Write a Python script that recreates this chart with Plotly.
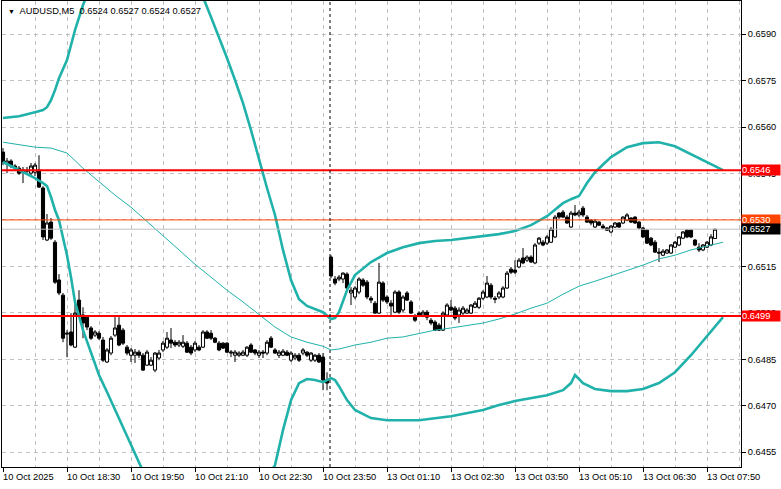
import plotly.graph_objects as go

# ---------------- data ----------------
open_ = [
0.65519,0.65480,0.65490,0.65474,0.65467,0.65454,0.65461,0.65451,0.65454,0.65461,
0.65403,0.65235,0.65293,0.65228,0.65106,0.65057,0.64931,0.64938,0.64889,0.65041,
0.64993,0.64986,0.64951,0.64928,0.64934,0.64912,0.64841,0.64870,0.64928,0.64960,
0.64944,0.64889,0.64863,0.64863,0.64873,0.64863,0.64831,0.64831,0.64815,0.64854,
0.64880,0.64889,0.64912,0.64905,0.64896,0.64892,0.64902,0.64889,0.64880,0.64889,
0.64889,0.64938,0.64934,0.64918,0.64902,0.64902,0.64902,0.64870,0.64863,0.64863,
0.64863,0.64863,0.64896,0.64880,0.64863,0.64873,0.64870,0.64918,0.64880,0.64863,
0.64863,0.64873,0.64847,0.64854,0.64863,0.64870,0.64873,0.64847,0.64847,0.64863,
0.64857,0.64783,0.65180,0.65109,0.65109,0.65109,0.65125,0.65064,0.65051,0.65067,
0.65106,0.65099,0.65047,0.65031,0.64999,0.65096,0.65051,0.65031,0.65002,0.65067,
0.65009,0.65064,0.65035,0.64986,0.64999,0.64993,0.65002,0.64976,0.64970,0.64960,
0.64944,0.64993,0.65018,0.65015,0.64993,0.64999,0.64999,0.64999,0.65018,0.65018,
0.65047,0.65051,0.65089,0.65047,0.65051,0.65051,0.65080,0.65141,0.65138,0.65148,
0.65177,0.65170,0.65180,0.65161,0.65225,0.65228,0.65225,0.65228,0.65245,0.65322,
0.65325,0.65309,0.65277,0.65322,0.65316,0.65338,0.65309,0.65299,0.65277,0.65293,
0.65280,0.65274,0.65261,0.65277,0.65290,0.65290,0.65299,0.65306,0.65309,0.65293,
0.65274,0.65267,0.65241,0.65228,0.65196,0.65186,0.65193,0.65193,0.65212,0.65219,
0.65241,0.65267,0.65267,0.65235,0.65212,0.65203,0.65212,0.65219,0.65240]

high = [
0.65532,0.65500,0.65496,0.65480,0.65474,0.65471,0.65471,0.65484,0.65484,0.65509,
0.65409,0.65319,0.65306,0.65235,0.65125,0.65064,0.64944,0.64999,0.65035,0.65073,
0.65018,0.64993,0.64957,0.64944,0.64941,0.64922,0.64886,0.64925,0.64986,0.64986,
0.64951,0.64896,0.64886,0.64883,0.64880,0.64870,0.64880,0.64857,0.64873,0.64880,
0.64909,0.64938,0.64951,0.64912,0.64912,0.64928,0.64909,0.64896,0.64909,0.64896,
0.64944,0.64944,0.64944,0.64922,0.64909,0.64905,0.64905,0.64880,0.64880,0.64876,
0.64880,0.64892,0.64902,0.64883,0.64880,0.64880,0.64912,0.64925,0.64886,0.64880,
0.64883,0.64880,0.64876,0.64870,0.64870,0.64886,0.64876,0.64873,0.64867,0.64870,
0.64870,0.64808,0.65186,0.65119,0.65122,0.65131,0.65131,0.65083,0.65086,0.65115,
0.65112,0.65106,0.65054,0.65038,0.65161,0.65102,0.65057,0.65041,0.65073,0.65073,
0.65057,0.65070,0.65041,0.64996,0.65005,0.65009,0.65009,0.64983,0.64976,0.64967,
0.65005,0.65031,0.65041,0.65022,0.65018,0.65022,0.65015,0.65028,0.65038,0.65051,
0.65073,0.65119,0.65096,0.65054,0.65070,0.65086,0.65135,0.65148,0.65170,0.65177,
0.65209,0.65186,0.65186,0.65225,0.65245,0.65235,0.65251,0.65277,0.65316,0.65325,
0.65332,0.65316,0.65329,0.65348,0.65332,0.65345,0.65316,0.65303,0.65303,0.65296,
0.65287,0.65277,0.65283,0.65293,0.65293,0.65312,0.65322,0.65309,0.65312,0.65296,
0.65277,0.65270,0.65245,0.65235,0.65209,0.65206,0.65206,0.65222,0.65232,0.65248,
0.65264,0.65270,0.65270,0.65238,0.65225,0.65222,0.65232,0.65254,0.65270]

low = [
0.65477,0.65451,0.65467,0.65461,0.65445,0.65419,0.65448,0.65445,0.65442,0.65403,
0.65235,0.65232,0.65235,0.65093,0.65057,0.64905,0.64857,0.64892,0.64886,0.64986,
0.64918,0.64944,0.64912,0.64922,0.64912,0.64841,0.64838,0.64863,0.64922,0.64892,
0.64896,0.64863,0.64841,0.64838,0.64854,0.64812,0.64828,0.64828,0.64808,0.64847,
0.64873,0.64883,0.64886,0.64889,0.64889,0.64886,0.64870,0.64863,0.64873,0.64876,
0.64886,0.64915,0.64912,0.64902,0.64876,0.64883,0.64870,0.64857,0.64841,0.64857,
0.64860,0.64857,0.64870,0.64863,0.64854,0.64854,0.64863,0.64886,0.64867,0.64854,
0.64860,0.64860,0.64841,0.64847,0.64841,0.64863,0.64857,0.64841,0.64841,0.64838,
0.64750,0.64750,0.65112,0.65089,0.65102,0.65096,0.65073,0.65025,0.65044,0.65060,
0.65083,0.65044,0.65031,0.64996,0.64996,0.65035,0.65028,0.64993,0.64999,0.64996,
0.65002,0.65038,0.64996,0.64970,0.64986,0.64986,0.64976,0.64960,0.64941,0.64941,
0.64941,0.64989,0.65005,0.64976,0.64967,0.64993,0.64996,0.64996,0.65015,0.65012,
0.65041,0.65047,0.65044,0.65031,0.65044,0.65047,0.65077,0.65125,0.65125,0.65144,
0.65157,0.65164,0.65161,0.65157,0.65219,0.65215,0.65219,0.65225,0.65241,0.65303,
0.65306,0.65287,0.65274,0.65312,0.65309,0.65309,0.65290,0.65283,0.65274,0.65280,
0.65270,0.65264,0.65257,0.65274,0.65274,0.65287,0.65296,0.65290,0.65287,0.65270,
0.65241,0.65222,0.65215,0.65193,0.65164,0.65183,0.65190,0.65190,0.65209,0.65215,
0.65238,0.65241,0.65241,0.65215,0.65196,0.65199,0.65209,0.65215,0.65240]

close = [
0.65487,0.65490,0.65474,0.65467,0.65451,0.65461,0.65458,0.65474,0.65477,0.65406,
0.65245,0.65290,0.65241,0.65099,0.65064,0.64918,0.64934,0.64896,0.64999,0.64993,
0.64967,0.64954,0.64918,0.64938,0.64918,0.64847,0.64880,0.64918,0.64951,0.64896,
0.64902,0.64870,0.64880,0.64873,0.64863,0.64815,0.64873,0.64847,0.64870,0.64870,
0.64902,0.64918,0.64902,0.64896,0.64905,0.64905,0.64873,0.64870,0.64902,0.64880,
0.64938,0.64918,0.64918,0.64905,0.64880,0.64886,0.64873,0.64873,0.64873,0.64870,
0.64873,0.64889,0.64873,0.64870,0.64873,0.64870,0.64905,0.64889,0.64870,0.64873,
0.64876,0.64863,0.64870,0.64863,0.64847,0.64880,0.64863,0.64870,0.64863,0.64841,
0.64783,0.64773,0.65119,0.65096,0.65115,0.65128,0.65080,0.65073,0.65080,0.65109,
0.65089,0.65051,0.65041,0.64999,0.65099,0.65041,0.65035,0.65022,0.65067,0.65002,
0.65051,0.65041,0.64999,0.64976,0.64993,0.65002,0.64986,0.64967,0.64944,0.64944,
0.64999,0.65025,0.65009,0.64983,0.65009,0.65015,0.65009,0.65025,0.65031,0.65047,
0.65067,0.65096,0.65051,0.65044,0.65064,0.65080,0.65128,0.65131,0.65131,0.65170,
0.65161,0.65180,0.65164,0.65219,0.65241,0.65219,0.65245,0.65270,0.65309,0.65309,
0.65309,0.65290,0.65322,0.65316,0.65325,0.65316,0.65293,0.65290,0.65296,0.65283,
0.65274,0.65267,0.65280,0.65290,0.65277,0.65309,0.65316,0.65293,0.65290,0.65274,
0.65245,0.65225,0.65219,0.65196,0.65193,0.65199,0.65203,0.65219,0.65228,0.65245,
0.65261,0.65245,0.65245,0.65219,0.65203,0.65219,0.65228,0.65245,0.65270]

bar_index = list(range(len(close)))

upper_idx = [0,4,8,10,11,12,13,14,16,18,20,22,24,32,36,40,44,48,50,52,54,56,58,60,62,64,66,68,70,72,
             74,76,78,80,82,83,84,85,86,88,90,92,96,100,104,108,112,116,120,124,128,132,136,140,142,144,
             146,148,152,156,160,164,168,172,176,180]
upper_val = [0.65629,0.65635,0.65648,0.65655,0.65664,0.65687,0.65719,0.65758,0.65816,0.65913,
             0.65994,0.66058,0.66107,0.66236,0.66252,0.66220,0.66155,0.66068,0.66020,0.65955,
             0.65890,0.65823,0.65752,0.65677,0.65590,0.65493,0.65403,0.65316,0.65203,0.65106,
             0.65044,0.65022,0.65012,0.65002,0.64980,0.64983,0.65002,0.65041,0.65073,0.65122,
             0.65144,0.65164,0.65193,0.65212,0.65225,0.65232,0.65235,0.65241,0.65248,0.65254,
             0.65264,0.65283,0.65312,0.65354,0.65367,0.65377,0.65419,0.65454,0.65503,0.65535,
             0.65548,0.65551,0.65538,0.65513,0.65487,0.65461]

lower_idx = [0,4,8,10,11,12,13,14,15,16,17,18,20,22,24,26,28,30,32,34,36,40,44,48,52,56,60,64,66,68,
             70,72,74,76,78,80,82,83,84,86,88,92,96,104,112,120,124,128,132,136,140,142,143,145,148,
             152,156,160,164,168,172,176,180]
lower_val = [0.65487,0.65461,0.65435,0.65419,0.65409,0.65374,0.65332,0.65299,0.65245,0.65186,
             0.65115,0.65035,0.64944,0.64870,0.64799,0.64744,0.64686,0.64628,0.64573,0.64515,
             0.64460,0.64379,0.64330,0.64314,0.64314,0.64330,0.64379,0.64434,0.64466,0.64508,
             0.64621,0.64718,0.64773,0.64786,0.64783,0.64776,0.64789,0.64783,0.64763,0.64718,
             0.64686,0.64660,0.64653,0.64653,0.64666,0.64686,0.64702,0.64715,0.64724,0.64734,
             0.64750,0.64773,0.64799,0.64773,0.64754,0.64747,0.64747,0.64754,0.64773,0.64808,
             0.64863,0.64925,0.64986]

mid_idx = [0,8,12,16,20,24,28,32,36,40,44,48,52,56,60,64,68,72,76,80,82,84,88,92,96,100,104,108,
           112,116,120,124,128,132,136,140,144,148,152,156,160,164,168,172,176,180]
mid_val = [0.65551,0.65535,0.65532,0.65516,0.65467,0.65422,0.65380,0.65341,0.65296,0.65251,
           0.65203,0.65157,0.65115,0.65073,0.65035,0.64996,0.64954,0.64922,0.64905,0.64892,
           0.64880,0.64883,0.64896,0.64905,0.64918,0.64922,0.64934,0.64944,0.64951,0.64960,
           0.64967,0.64980,0.64996,0.65015,0.65031,0.65060,0.65086,0.65102,0.65119,0.65138,
           0.65154,0.65174,0.65186,0.65203,0.65215,0.65228]

xlabel_idx = [0,16,32,48,64,80,96,112,128,144,160,176]
xlabel_text = ["10 Oct 2025","10 Oct 18:30","10 Oct 19:50","10 Oct 21:10","10 Oct 22:30",
               "10 Oct 23:50","13 Oct 01:10","13 Oct 02:30","13 Oct 03:50","13 Oct 05:10",
               "13 Oct 06:30","13 Oct 07:50"]
xgrid_minor = [8,24,40,56,72,88,104,120,136,152,168,184]
day_break_idx = 82

ytick_vals = [0.6455,0.6470,0.6485,0.6500,0.6515,0.6530,0.6545,0.6560,0.6575,0.6590]

level_vals = [0.6546, 0.6530, 0.6527, 0.6499]
level_line_colors = ["#FF0000", "#FF4500", "#C0C0C0", "#FF0000"]
level_line_widths = [2, 1, 1, 2]
level_label_bg = ["#FF0000", "#FF4500", "#000000", "#FF0000"]

title_text = "AUDUSD,M5  0.6524 0.6527 0.6524 0.6527"

# ---------------- figure ----------------
FONT = "Liberation Sans, Arial, sans-serif"
FS = 9.3
BAND = "#20B2AA"

fig = go.Figure()
fig.add_trace(go.Candlestick(
    x=bar_index, open=open_, high=high, low=low, close=close,
    increasing=dict(line=dict(color="black", width=1), fillcolor="white"),
    decreasing=dict(line=dict(color="black", width=1), fillcolor="black"),
    whiskerwidth=0, showlegend=False, hoverinfo="skip"))
fig.add_trace(go.Scatter(x=mid_idx, y=mid_val, mode="lines",
                         line=dict(color=BAND, width=1), showlegend=False, hoverinfo="skip"))
fig.add_trace(go.Scatter(x=upper_idx, y=upper_val, mode="lines",
                         line=dict(color=BAND, width=2.6), showlegend=False, hoverinfo="skip"))
fig.add_trace(go.Scatter(x=lower_idx, y=lower_val, mode="lines",
                         line=dict(color=BAND, width=2.6), showlegend=False, hoverinfo="skip"))

shapes = []
for v, c, w in zip(level_vals, level_line_colors, level_line_widths):
    shapes.append(dict(type="line", xref="paper", x0=0, x1=1, yref="y", y0=v, y1=v,
                       line=dict(color=c, width=w), layer="above"))
shapes.append(dict(type="line", xref="x", x0=day_break_idx - 0.25, x1=day_break_idx - 0.25,
                   yref="paper", y0=0, y1=1, line=dict(color="black", width=1, dash="3px,3px"),
                   layer="above"))

annotations = []
for i, t in zip(xlabel_idx, xlabel_text):
    annotations.append(dict(x=i, xref="x", y=0, yref="paper", text=t, showarrow=False,
                            xanchor="left", yanchor="top", yshift=-3, xshift=-2,
                            font=dict(family=FONT, size=FS, color="black")))
for v, bg in zip(level_vals, level_label_bg):
    annotations.append(dict(x=1, xref="paper", y=v, yref="y", text=f"{v:.4f}", showarrow=False,
                            xanchor="left", yanchor="middle", xshift=0, width=38, align="left",
                            bgcolor=bg, borderpad=0,
                            font=dict(family=FONT, size=FS, color="white")))
annotations.append(dict(x=0, xref="paper", y=1, yref="paper",
                        text="<span style='font-size:7px'>▼</span>  " + title_text,
                        showarrow=False, xanchor="left", yanchor="top", xshift=4, yshift=-3,
                        font=dict(family=FONT, size=FS, color="black")))

grid = "#C0C0C0"
fig.update_layout(
    width=781, height=489,
    margin=dict(l=2, r=40, t=1, b=22, autoexpand=False),
    paper_bgcolor="white", plot_bgcolor="white",
    showlegend=False,
    boxgap=0.22, boxgroupgap=0,
    shapes=shapes, annotations=annotations,
    font=dict(family=FONT, size=FS, color="black"),
    xaxis=dict(range=[-0.25, 184.5], rangeslider=dict(visible=False), showline=True,
               linecolor="black", linewidth=1, mirror=True, zeroline=False, automargin=False,
               tickmode="array", tickvals=xlabel_idx, showticklabels=False,
               ticks="outside", ticklen=4, tickcolor="black",
               showgrid=True, gridcolor=grid, griddash="4px,4px", gridwidth=1,
               minor=dict(tickmode="array", tickvals=xgrid_minor, showgrid=True,
                          gridcolor=grid, griddash="4px,4px", ticks="")),
    yaxis=dict(range=[0.64502, 0.66007], side="right", showline=True, linecolor="black",
               linewidth=1, mirror=True, zeroline=False, automargin=False,
               tickmode="array", tickvals=ytick_vals,
               tickformat=".4f", ticks="outside", ticklen=4, tickcolor="black",
               showgrid=True, gridcolor=grid, griddash="4px,4px", gridwidth=1,
               tickfont=dict(family=FONT, size=FS, color="black")),
)

fig.write_html("out.html", config={"displayModeBar": False},
               post_script="document.body.style.margin='0';document.body.style.overflow='hidden';")
